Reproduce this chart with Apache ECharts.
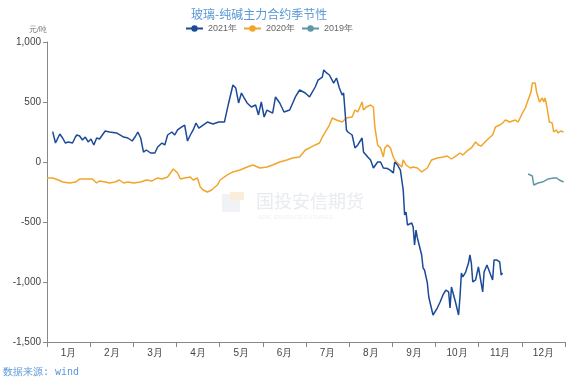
<!DOCTYPE html>
<html><head><meta charset="utf-8">
<script src="https://cdn.jsdelivr.net/npm/echarts@6/dist/echarts.min.js"></script>
<style>html,body{margin:0;padding:0;background:#fff}#c{width:584px;height:388px}</style>
</head><body><div id="c"></div>
<script>
var months = ['1月','2月','3月','4月','5月','6月','7月','8月','9月','10月','11月','12月'];
var yTicks = {min: -1500, max: 1000, interval: 500};
// day-of-year positions and values (元/吨)
var days2021 = [4,6,9,11,13,15,18,20,21,23,25,27,29,31,33,35,37,41,44,49,54,57,60,62,64,66,68,70,73,76,78,81,83,85,88,90,92,95,97,99,101,103,105,107,110,113,117,121,125,128,131,133,135,137,139,141,144,147,149,151,153,155,159,161,164,167,171,175,178,182,185,189,191,194,195,197,199,202,204,206,208,209,211,212,215,217,219,222,223,226,228,229,230,233,235,237,240,242,244,245,247,249,251,252,253,254,257,258,259,260,261,264,265,266,268,269,270,272,275,277,279,281,283,284,285,286,288,290,291,292,293,295,297,298,299,300,302,304,307,308,310,311,314,315,317,319,320,321];
var vals2021 = [253,158,233,200,158,167,158,208,225,217,183,208,167,192,142,200,192,258,250,242,208,200,175,208,250,200,83,100,75,75,125,158,142,225,250,225,267,292,308,175,225,267,325,283,308,333,317,333,333,492,642,617,492,575,533,492,458,475,392,500,375,433,408,542,492,417,433,542,600,575,542,625,683,708,767,742,725,658,700,617,558,575,267,250,225,117,142,200,83,42,17,33,-50,0,0,-50,-55,-70,-92,0,-25,-67,-233,-442,-417,-525,-508,-542,-692,-567,-633,-775,-883,-900,-1008,-1125,-1117,-1275,-1217,-1167,-1108,-1067,-1083,-1217,-1042,-1050,-1175,-1275,-1125,-925,-958,-917,-842,-775,-842,-1000,-983,-875,-1083,-917,-858,-842,-983,-817,-817,-833,-942,-925];
var days2020 = [0,4,8,11,16,20,23,28,32,35,37,41,44,48,51,54,57,61,66,70,74,78,81,85,87,89,92,94,97,101,103,106,108,110,113,116,120,122,127,131,136,141,145,150,155,159,164,169,173,178,182,185,189,192,194,197,199,201,204,208,211,215,217,219,222,223,225,228,230,231,233,235,237,238,240,242,244,245,247,250,251,253,256,258,261,264,268,271,275,279,282,285,289,291,293,296,299,302,304,306,310,314,316,319,321,323,326,330,332,335,337,339,341,342,344,345,347,349,350,351,352,354,356,357,359,360,362,364];
var vals2020 = [-133,-133,-150,-167,-175,-167,-142,-142,-142,-175,-158,-167,-175,-167,-150,-175,-167,-175,-167,-150,-158,-133,-142,-125,-92,-58,-92,-142,-133,-125,-150,-133,-208,-233,-250,-233,-192,-150,-108,-83,-67,-42,-25,-50,-42,-25,0,17,33,42,100,117,142,158,208,267,308,367,350,333,367,375,433,417,500,433,458,475,458,292,142,117,42,117,142,117,42,17,-8,-42,17,-25,-50,-42,-50,-83,-50,17,33,42,50,25,58,75,58,92,117,167,142,133,183,225,292,308,325,350,333,350,333,408,450,517,583,658,658,583,500,533,500,533,475,333,325,250,267,242,258,250];
var days2019 = [339,342,343,346,349,353,357,359,361,364];
var vals2019 = [-100,-117,-192,-175,-167,-142,-133,-133,-150,-167];

function pairs(d, v){ return d.map(function(x,i){ return [x, v[i]]; }); }

var chart = echarts.init(document.getElementById('c'), null, {renderer:'canvas'});
var blue = '#1b4a97', orange = '#f2a52b', teal = '#5f98a3';
chart.setOption({
  animation: false,
  backgroundColor: '#fff',
  title: {
    text: '玻璃-纯碱主力合约季节性', left: 186, top: 3,
    textStyle: {color: '#5a98d6', fontSize: 12, fontWeight: 'normal', fontFamily: 'Noto Sans CJK SC'}
  },
  legend: {
    top: 19, left: 180, itemWidth: 17, itemHeight: 8, itemGap: 6,
    textStyle: {color: '#666', fontSize: 9},
    data: ['2021年','2020年','2019年']
  },
  grid: {left: 47, right: 19, top: 42, bottom: 46},
  xAxis: [{
    type: 'category', data: months, boundaryGap: true,
    axisLine: {onZero: false, lineStyle: {color: '#888'}},
    axisTick: {show: true, alignWithLabel: false, lineStyle: {color: '#888'}},
    axisLabel: {color: '#444', fontSize: 10, margin: 6},
    splitLine: {show: false}
  }, {
    type: 'value', min: 0, max: 365, show: false
  }],
  yAxis: {
    type: 'value', min: yTicks.min, max: yTicks.max, interval: yTicks.interval,
    name: '元/吨', nameLocation: 'end', nameGap: 8,
    nameTextStyle: {color: '#777', fontSize: 8, align: 'right', padding: [0, 0, 0, 0]},
    axisLine: {show: true, lineStyle: {color: '#888'}},
    axisTick: {show: true, length: 4, lineStyle: {color: '#888'}},
    axisLabel: {color: '#444', fontSize: 10, margin: 6},
    splitLine: {show: false}
  },
  series: [
    {name: '2021年', type: 'line', xAxisIndex: 1, data: pairs(days2021, vals2021), showSymbol: false, symbol: 'circle', symbolSize: 8,
     itemStyle: {color: blue}, lineStyle: {color: blue, width: 1.5}, z: 3},
    {name: '2020年', type: 'line', xAxisIndex: 1, data: pairs(days2020, vals2020), showSymbol: false, symbol: 'circle', symbolSize: 8,
     itemStyle: {color: orange}, lineStyle: {color: orange, width: 1.5}, z: 2},
    {name: '2019年', type: 'line', xAxisIndex: 1, data: pairs(days2019, vals2019), showSymbol: false, symbol: 'circle', symbolSize: 8,
     itemStyle: {color: teal}, lineStyle: {color: teal, width: 1.5}, z: 2}
  ],
  graphic: [
    {type: 'rect', left: 222, top: 194, shape: {width: 18, height: 18}, style: {fill: '#f0f2f5'}, z: -1},
    {type: 'rect', left: 230, top: 192, shape: {width: 14, height: 8}, style: {fill: '#faeedb'}, z: -1},
    {type: 'text', left: 256, top: 192, style: {text: '国投安信期货', fill: '#e9ebef', fontSize: 18, fontFamily: 'Noto Sans CJK SC'}, z: -1},
    {type: 'text', left: 258, top: 214, style: {text: 'SDIC ESSENCE FUTURES', fill: '#eef0f2', fontSize: 6}, z: -1},
    {type: 'text', left: 3, top: 367, style: {text: '数据来源: wind', fill: '#5a98d6', fontSize: 10, fontFamily: 'DejaVu Sans Mono'}}
  ]
});
</script></body></html>
